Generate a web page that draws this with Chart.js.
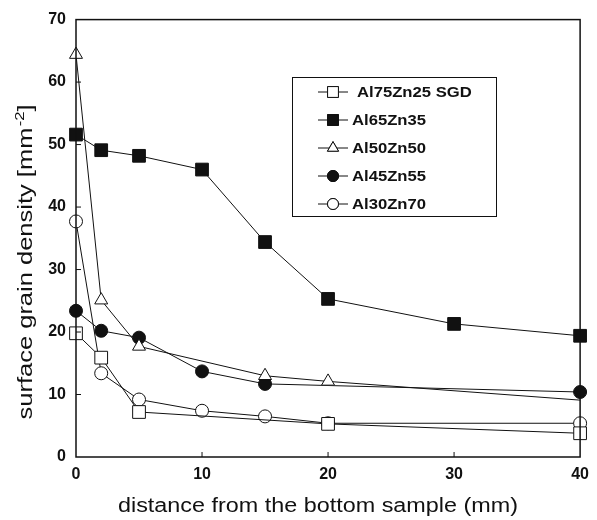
<!DOCTYPE html>
<html>
<head>
<meta charset="utf-8">
<script src="https://cdn.jsdelivr.net/npm/chart.js@4.4.1/dist/chart.umd.min.js"></script>
<style>
  html, body { margin: 0; padding: 0; background: #fff; }
  #wrap { width: 597px; height: 520px; }
</style>
</head>
<body>
<div id="wrap"><canvas id="grain-chart" width="597" height="520"></canvas></div>
<script>
const seriesNames = ["Al75Zn25 SGD", "Al65Zn35", "Al50Zn50", "Al45Zn55", "Al30Zn70"],
  xSGD = [0, 2, 5, 20, 40],
  ySGD = [19.8, 15.9, 7.2, 5.3, 3.8],
  x6535 = [0, 2, 5, 10, 15, 20, 30, 40],
  y6535 = [51.6, 49.1, 48.2, 46.0, 34.4, 25.3, 21.3, 19.4],
  x5050 = [0, 2, 5, 15, 20, 40],
  y5050 = [64.4, 25.1, 17.7, 13.0, 12.1, 9.1],
  x4555 = [0, 2, 5, 10, 15, 40],
  y4555 = [23.4, 20.2, 19.1, 13.7, 11.7, 10.4],
  x3070 = [0, 2, 5, 10, 15, 20, 40],
  y3070 = [37.7, 13.4, 9.2, 7.4, 6.5, 5.4, 5.4],
  xTicks = [0, 10, 20, 30, 40],
  yTicks = [0, 10, 20, 30, 40, 50, 60, 70];

const toPts = (xs, ys) => xs.map((x, i) => ({ x, y: ys[i] }));

// marker styles per series
const markers = [
  { style: "rect", fill: "#fff", r: 9 },
  { style: "rect", fill: "#111", r: 9 },
  { style: "triangle", fill: "#fff", r: 7.5 },
  { style: "circle", fill: "#111", r: 6.5 },
  { style: "circle", fill: "#fff", r: 6.5 },
];

const allX = [xSGD, x6535, x5050, x4555, x3070],
  allY = [ySGD, y6535, y5050, y4555, y3070];

const datasets = seriesNames.map((name, i) => ({
  label: name,
  data: toPts(allX[i], allY[i]),
  borderColor: "#111",
  borderWidth: 1,
  pointStyle: markers[i].style,
  pointBackgroundColor: markers[i].fill,
  pointBorderColor: "#111",
  pointBorderWidth: 1,
  // the Al50Zn50 line runs out to 40 without a marker there
  pointRadius: i === 2 ? allX[i].map((x) => (x === 40 ? 0 : markers[i].r)) : markers[i].r,
  pointHoverRadius: markers[i].r,
  tension: 0,
  clip: false,
}));

const FONT = "'Liberation Sans', Arial, sans-serif";

// text in the original is a bit wider than Arial, so stretch it horizontally
function wideText(ctx, txt, x, y, sx) {
  ctx.save();
  ctx.translate(x, y);
  ctx.scale(sx, 1);
  ctx.fillText(txt, 0, 0);
  ctx.restore();
}

// wanted plot box: left 76, top 14, right 587, bottom 457
const AREA = { left: 76, top: 14, right: 587, bottom: 457 };

const decorPlugin = {
  id: "decor",
  afterDraw(chart) {
    const { ctx, chartArea: a, scales } = chart;
    ctx.save();
    // frame
    ctx.strokeStyle = "#111";
    ctx.lineWidth = 1.5;
    ctx.strokeRect(a.left, a.top, a.right - a.left, a.bottom - a.top);
    // inward ticks
    ctx.lineWidth = 1;
    ctx.beginPath();
    yTicks.slice(1, -1).forEach((v) => {
      const y = scales.y.getPixelForValue(v);
      ctx.moveTo(a.left, y);
      ctx.lineTo(a.left + 5, y);
    });
    xTicks.slice(1, -1).forEach((v) => {
      const x = scales.x.getPixelForValue(v);
      ctx.moveTo(x, a.bottom);
      ctx.lineTo(x, a.bottom - 5);
    });
    ctx.stroke();

    // x title, stretched to ~400px
    ctx.fillStyle = "#111";
    ctx.font = "20px " + FONT;
    ctx.textAlign = "left";
    ctx.textBaseline = "alphabetic";
    const xt = "distance from the bottom sample (mm)",
      xw = ctx.measureText(xt).width,
      xs = 400 / xw;
    wideText(ctx, xt, 118, 512, xs);

    // y title with superscript, stretched to ~315px
    ctx.save();
    ctx.translate(32, 262);
    ctx.rotate(-Math.PI / 2);
    const main = "surface grain density [mm",
      sup = "-2",
      end = "]";
    ctx.font = "20px " + FONT;
    const wMain = ctx.measureText(main).width,
      wEnd = ctx.measureText(end).width;
    ctx.font = "13px " + FONT;
    const wSup = ctx.measureText(sup).width;
    const total = wMain + wSup + wEnd + 1,
      ys = 315 / total;
    ctx.scale(ys, 1);
    let x0 = -total / 2;
    ctx.font = "20px " + FONT;
    ctx.fillText(main, x0, 0);
    ctx.font = "13px " + FONT;
    ctx.fillText(sup, x0 + wMain + 1, -8);
    ctx.font = "20px " + FONT;
    ctx.fillText(end, x0 + wMain + wSup + 1, 0);
    ctx.restore();

    // legend box
    const lx = 292, ly = 77, lw = 204, lh = 139;
    ctx.fillStyle = "#fff";
    ctx.fillRect(lx, ly, lw, lh);
    ctx.strokeStyle = "#111";
    ctx.lineWidth = 1;
    ctx.strokeRect(lx + 0.5, ly + 0.5, lw, lh);
    seriesNames.forEach((name, i) => {
      const y = 92 + i * 28,
        m = markers[i];
      ctx.beginPath();
      ctx.moveTo(318, y);
      ctx.lineTo(348, y);
      ctx.strokeStyle = "#111";
      ctx.lineWidth = 1;
      ctx.stroke();
      ctx.fillStyle = m.fill;
      Chart.helpers.drawPoint(ctx, { pointStyle: m.style, radius: m.r * 0.85, rotation: 0, borderWidth: 1 }, 333, y);
      ctx.fill();
      ctx.stroke();
      ctx.fillStyle = "#111";
      ctx.font = "bold 15px " + FONT;
      ctx.textAlign = "left";
      ctx.textBaseline = "middle";
      wideText(ctx, name, i === 0 ? 357 : 352, y + 1, 1.11);
    });
    ctx.restore();
  },
};

const chart = new Chart(document.getElementById("grain-chart").getContext("2d"), {
  type: "line",
  data: { datasets },
  plugins: [decorPlugin],
  options: {
    responsive: false,
    animation: false,
    layout: { padding: { top: 14, right: 10, left: 0, bottom: 0 } },
    plugins: { legend: { display: false }, tooltip: { enabled: false } },
    scales: {
      x: {
        type: "linear",
        min: 0,
        max: 40,
        afterFit(scale) { scale.height = 63; },
        afterBuildTicks(scale) { scale.ticks = xTicks.map((v) => ({ value: v })); },
        grid: { display: false, drawTicks: false },
        border: { display: false },
        ticks: { padding: 8, color: "#111", font: { family: FONT, size: 16, weight: "bold" }, maxRotation: 0 },
      },
      y: {
        type: "linear",
        min: 0,
        max: 70,
        afterFit(scale) { scale.width = 76; },
        afterBuildTicks(scale) { scale.ticks = yTicks.map((v) => ({ value: v })); },
        grid: { display: false, drawTicks: false },
        border: { display: false },
        ticks: { padding: 10, color: "#111", font: { family: FONT, size: 16, weight: "bold" } },
      },
    },
  },
});

// correct the layout padding so the plot box lands where it is in the original
const ca = chart.chartArea,
  pad = { top: 14, right: 10, left: 0, bottom: 0 };
pad.top += AREA.top - ca.top;
pad.right += ca.right - AREA.right;
pad.left += AREA.left - ca.left;
pad.bottom += ca.bottom - AREA.bottom;
chart.config.options.layout.padding = pad;
chart.update();
</script>
</body>
</html>
